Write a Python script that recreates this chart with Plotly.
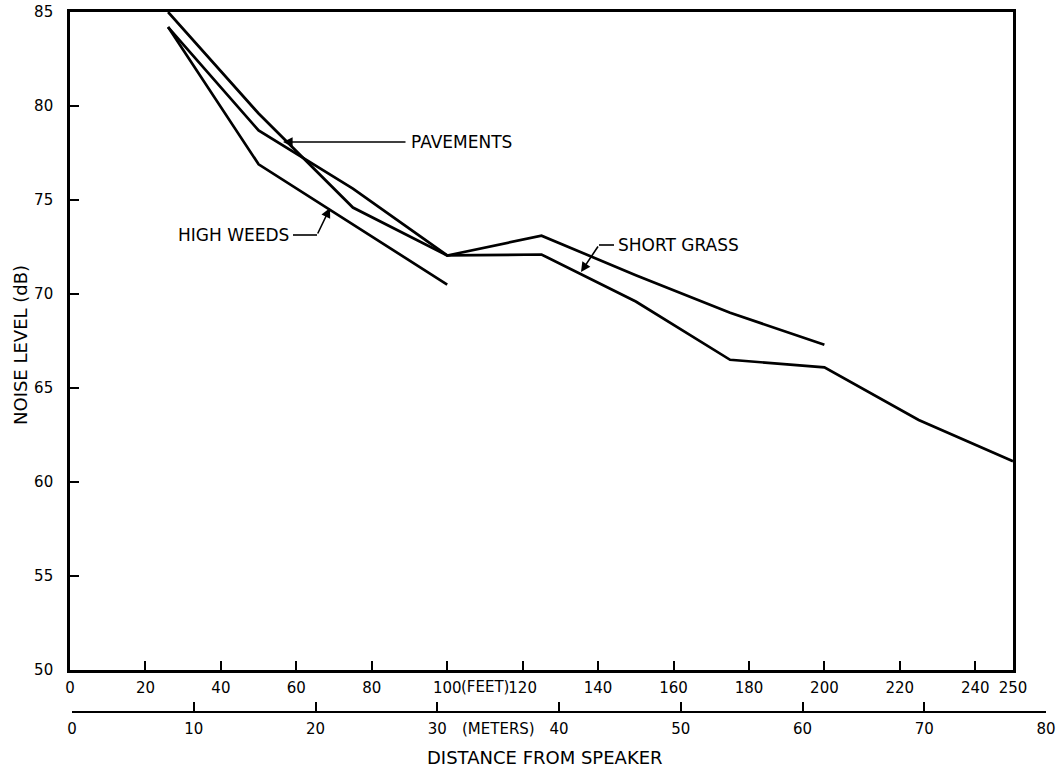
import plotly.graph_objects as go

# ---- data ----
high_weeds_ft = [26, 50, 100]
high_weeds_db = [84.2, 76.9, 70.5]

pavements_ft = [26, 50, 75, 100, 125, 150, 175, 200]
pavements_db = [85.0, 79.6, 74.6, 72.05, 73.1, 71.0, 69.0, 67.3]

short_grass_ft = [26, 50, 75, 100, 125, 150, 175, 200, 225, 250]
short_grass_db = [84.2, 78.7, 75.6, 72.05, 72.1, 69.6, 66.5, 66.1, 63.3, 61.1]

feet_ticks = [0, 20, 40, 60, 80, 100, 120, 140, 160, 180, 200, 220, 240, 250]
feet_labels = ["0", "20", "40", "60", "80", "100", "120", "140", "160", "180", "200", "220", "240", "250"]
meter_ticks = [0, 10, 20, 30, 40, 50, 60, 70, 80]
meter_labels = ["0", "10", "20", "30", "40", "50", "60", "70", "80"]
db_ticks = [50, 55, 60, 65, 70, 75, 80, 85]

FONT = "DejaVu Sans"
W, H = 1058, 772
ML, MR, MT, MB = 70, 12, 12, 60
PW = W - ML - MR
PH = H - MT - MB

def px(xp):
    return (xp - ML) / PW

def py(yp):
    return (H - MB - yp) / PH

line_style = dict(color="black", width=2.7)

fig = go.Figure()
for xs, ys, name in [(high_weeds_ft, high_weeds_db, "HIGH WEEDS"),
                     (pavements_ft, pavements_db, "PAVEMENTS"),
                     (short_grass_ft, short_grass_db, "SHORT GRASS")]:
    fig.add_trace(go.Scatter(x=xs, y=ys, mode="lines", line=line_style,
                             name=name, showlegend=False, hoverinfo="skip"))

# invisible trace to host the metric axis
fig.add_trace(go.Scatter(x=[meter_ticks[0], meter_ticks[-1]], y=[db_ticks[0], db_ticks[0]],
                         xaxis="x2", yaxis="y", mode="markers",
                         marker=dict(opacity=0), showlegend=False, hoverinfo="skip"))

tickfont = dict(family=FONT, size=15, color="black")

fig.update_layout(
    width=W, height=H,
    margin=dict(l=ML, r=MR, t=MT, b=MB, autoexpand=False),
    paper_bgcolor="white", plot_bgcolor="rgba(0,0,0,0)",
    xaxis=dict(range=[0, 250], domain=[0, (1013 - ML) / PW], anchor="y",
               tickmode="array", tickvals=feet_ticks, ticktext=feet_labels,
               ticks="inside", ticklen=9, tickwidth=1.6, tickcolor="black",
               showline=True, linewidth=2.6, linecolor="black", mirror=True,
               showgrid=False, zeroline=False, tickfont=tickfont,
               ticklabelstandoff=2, automargin=False),
    xaxis2=dict(range=[0, 80], domain=[(72 - ML) / PW, 1.0], anchor="free", position=0,
                side="bottom",
                tickmode="array", tickvals=meter_ticks, ticktext=meter_labels,
                ticks="inside", ticklen=9, tickwidth=1.6, tickcolor="black",
                showline=True, linewidth=2, linecolor="black",
                showgrid=False, zeroline=False, tickfont=tickfont,
                ticklabelstandoff=3, automargin=False),
    yaxis=dict(range=[50, 85], domain=[py(670), 1.0], anchor="x",
               tickmode="array", tickvals=db_ticks,
               ticks="inside", ticklen=9, tickwidth=1.6, tickcolor="black",
               showline=True, linewidth=2.6, linecolor="black", mirror=True,
               showgrid=False, zeroline=False, tickfont=tickfont,
               ticklabelstandoff=11, automargin=False),
)

ann_font = dict(family=FONT, size=17, color="black")
title_font = dict(family=FONT, size=18, color="black")

def ftx(xp):
    return (xp - 70) / 3.772

def dby(yp):
    return 85 - (yp - 12) / 18.8

annotations = [
    # axis titles
    dict(text="DISTANCE FROM SPEAKER", x=px(545), y=py(757), xref="paper", yref="paper",
         xanchor="center", yanchor="middle", showarrow=False, font=title_font),
    dict(text="NOISE LEVEL (dB)", x=px(20), y=py(345), xref="paper", yref="paper",
         xanchor="center", yanchor="middle",
         showarrow=False, textangle=-90, font=title_font),
    dict(text="(FEET)", x=110, y=py(687), xref="x", yref="paper",
         xanchor="center", yanchor="middle", showarrow=False, font=tickfont),
    dict(text="(METERS)", x=35, y=py(729), xref="x2", yref="paper",
         xanchor="center", yanchor="middle", showarrow=False, font=tickfont),
    # series labels
    dict(text="PAVEMENTS", x=ftx(409), y=dby(142), xref="x", yref="y",
         xanchor="left", yanchor="middle", showarrow=False, font=ann_font),
    dict(text="", x=ftx(283), y=dby(142), ax=ftx(407), ay=dby(142),
         xref="x", yref="y", axref="x", ayref="y",
         showarrow=True, arrowhead=2, arrowsize=1.2, arrowwidth=1.6, arrowcolor="black"),
    dict(text="HIGH WEEDS", x=ftx(291), y=dby(235), xref="x", yref="y",
         xanchor="right", yanchor="middle", showarrow=False, font=ann_font),
    dict(text="", x=ftx(330), y=dby(208), ax=ftx(317), ay=dby(235),
         xref="x", yref="y", axref="x", ayref="y",
         showarrow=True, arrowhead=2, arrowsize=1.2, arrowwidth=1.6, arrowcolor="black"),
    dict(text="SHORT GRASS", x=ftx(616), y=dby(245), xref="x", yref="y",
         xanchor="left", yanchor="middle", showarrow=False, font=ann_font),
    dict(text="", x=ftx(581), y=dby(272), ax=ftx(599), ay=dby(245),
         xref="x", yref="y", axref="x", ayref="y",
         showarrow=True, arrowhead=2, arrowsize=1.2, arrowwidth=1.6, arrowcolor="black"),
]
fig.update_layout(annotations=annotations)

shapes = [
    dict(type="line", xref="x", yref="y", x0=ftx(293), y0=dby(235), x1=ftx(317), y1=dby(235),
         line=dict(color="black", width=1.6)),
    dict(type="line", xref="x", yref="y", x0=ftx(614), y0=dby(245), x1=ftx(599), y1=dby(245),
         line=dict(color="black", width=1.6)),
]
fig.update_layout(shapes=shapes)

fig.write_html("out.html")
